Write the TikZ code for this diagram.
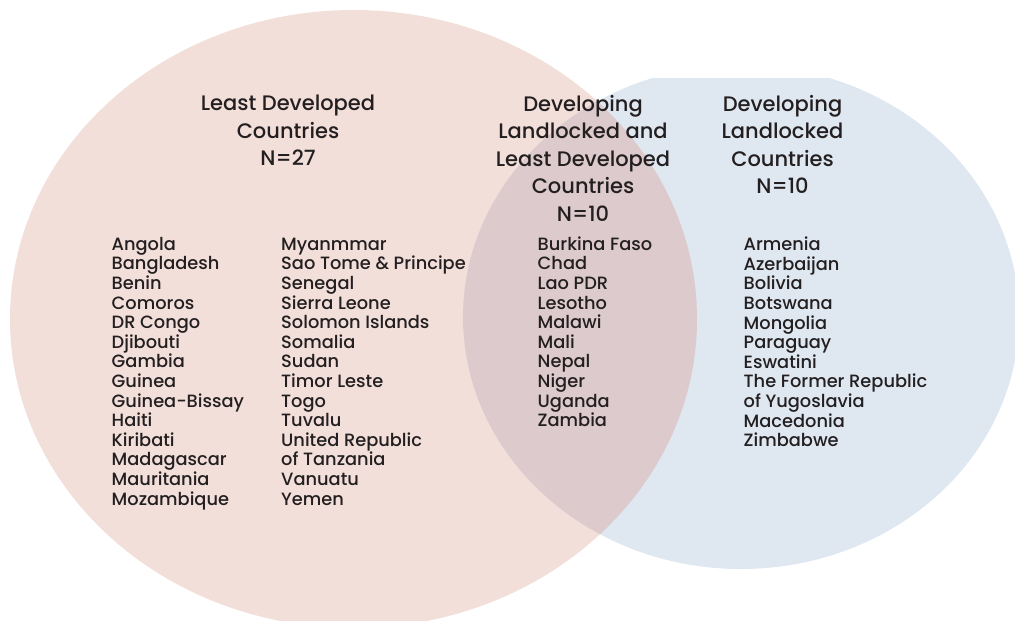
\documentclass[tikz,border=0pt]{standalone}
\usepackage{fontspec}
\setmainfont{Poppins}[UprightFont={* Medium}]
\definecolor{ldcpink}{HTML}{F2DFDA}
\definecolor{lldcblue}{HTML}{DFE7F0}
\definecolor{bothmix}{HTML}{DCCACC}
\definecolor{inkgray}{HTML}{231F20}
\begin{document}
\begin{tikzpicture}[x=1pt,y=-1pt,
  titletext/.style={inner sep=0pt, anchor=base, align=center, text=inkgray,
    font=\fontsize{21}{27.5}\selectfont},
  listtext/.style={inner sep=0pt, anchor=base west, align=left, text=inkgray,
    font=\fontsize{17.8}{19.6}\selectfont}]
\useasboundingbox (0,0) rectangle (1015,621);
\begin{scope}
  \clip (0,0) rectangle (1015,621);
  \fill[ldcpink] (353.5,319) ellipse [x radius=343.5, y radius=309];
  \begin{scope}
    \clip (0,78) rectangle (1015,621);
    \fill[lldcblue] (741,317) ellipse [x radius=278, y radius=252];
    \begin{scope}
      \clip (353.5,319) ellipse [x radius=343.5, y radius=309];
      \fill[bothmix] (741,317) ellipse [x radius=278, y radius=252];
    \end{scope}
  \end{scope}
\end{scope}

% base anchor = baseline of the last line
\node[titletext] (ldctitle) at (288,165.7) {Least Developed\\Countries\\N=27};
\node[titletext] (bothtitle) at (583,221) {Developing\\Landlocked and\\Least Developed\\Countries\\N=10};
\node[titletext] (lldctitle) at (782.5,193.5) {Developing\\Landlocked\\Countries\\N=10};

\node[listtext] (ldclistA) at (111.5,505) {Angola\\Bangladesh\\Benin\\Comoros\\DR Congo\\Djibouti\\Gambia\\Guinea\\Guinea-Bissay\\Haiti\\Kiribati\\Madagascar\\Mauritania\\Mozambique};
\node[listtext] (ldclistB) at (281,505) {Myanmmar\\Sao Tome \& Principe\\Senegal\\Sierra Leone\\Solomon Islands\\Somalia\\Sudan\\Timor Leste\\Togo\\Tuvalu\\United Republic\\of Tanzania\\Vanuatu\\Yemen};
\node[listtext] (bothlist) at (537.5,426.7) {Burkina Faso\\Chad\\Lao PDR\\Lesotho\\Malawi\\Mali\\Nepal\\Niger\\Uganda\\Zambia};
\node[listtext] (lldclist) at (743.5,446.7) {Armenia\\Azerbaijan\\Bolivia\\Botswana\\Mongolia\\Paraguay\\Eswatini\\The Former Republic\\of Yugoslavia\\Macedonia\\Zimbabwe};
\end{tikzpicture}
\end{document}
